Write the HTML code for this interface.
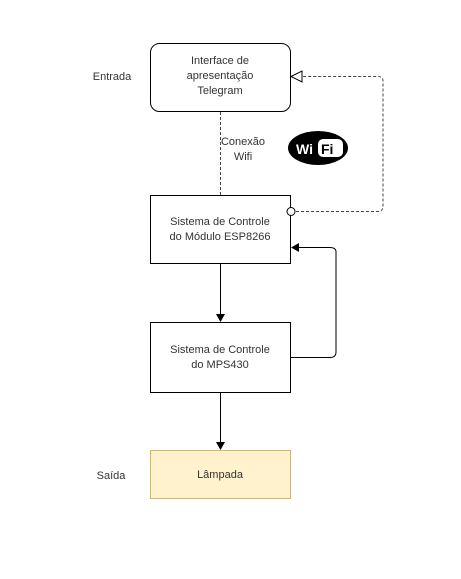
<!DOCTYPE html>
<html><head><style>
body{margin:0;background:#fff;width:461px;height:574px;overflow:hidden}
svg text{font-family:"Liberation Sans",sans-serif;font-size:11px;fill:#333}
</style></head><body>
<svg width="461" height="574" viewBox="0 0 461 574">
<rect x="150.5" y="43.5" width="140" height="68" rx="9" fill="#fff" stroke="#000"/>
<text x="220" y="64" text-anchor="middle">Interface de</text>
<text x="220" y="79" text-anchor="middle">apresentação</text>
<text x="220" y="94" text-anchor="middle">Telegram</text>
<text x="112" y="80" text-anchor="middle">Entrada</text>
<line x1="220.5" y1="112" x2="220.5" y2="195" stroke="#444" stroke-dasharray="3,2"/>
<text x="243" y="145" text-anchor="middle">Conexão</text>
<text x="243" y="160" text-anchor="middle">Wifi</text>
<ellipse cx="318" cy="148" rx="30" ry="17" fill="#000"/>
<text x="296" y="154" style="fill:#fff;font-size:14px;font-weight:bold">Wi</text>
<rect x="318" y="139" width="25" height="18" rx="5" fill="#fff"/>
<text x="321" y="154" style="fill:#000;font-size:14px;font-weight:bold">Fi</text>
<path d="M296 211.5 H378 Q383 211.5 383 206 V81 Q383 76.5 378 76.5 H302" fill="none" stroke="#444" stroke-dasharray="3,2"/>
<polygon points="291,76.5 302,71 302,82" fill="#fff" stroke="#000"/>
<rect x="150.5" y="195.5" width="140" height="68" fill="#fff" stroke="#000"/>
<circle cx="291" cy="211.5" r="4" fill="#fff" stroke="#000"/>
<text x="220" y="225" text-anchor="middle">Sistema de Controle</text>
<text x="220" y="240" text-anchor="middle">do Módulo ESP8266</text>
<line x1="220.5" y1="263" x2="220.5" y2="316" stroke="#000"/>
<polygon points="220.5,322 216,314 225,314" fill="#000"/>
<rect x="150.5" y="322.5" width="140" height="70" fill="#fff" stroke="#000"/>
<text x="220" y="353" text-anchor="middle">Sistema de Controle</text>
<text x="220" y="368" text-anchor="middle">do MPS430</text>
<path d="M291 357.5 H330 Q336 357.5 336 352 V252 Q336 247.5 330 247.5 H297" fill="none" stroke="#000"/>
<polygon points="291,247.5 299,243 299,252" fill="#000"/>
<line x1="220.5" y1="393" x2="220.5" y2="444" stroke="#000"/>
<polygon points="220.5,450 216,442 225,442" fill="#000"/>
<rect x="150.5" y="450.5" width="140" height="48" fill="#fff2cc" stroke="#d6b656"/>
<text x="220" y="478" text-anchor="middle">Lâmpada</text>
<text x="111" y="479" text-anchor="middle">Saída</text>
</svg>
</body></html>
